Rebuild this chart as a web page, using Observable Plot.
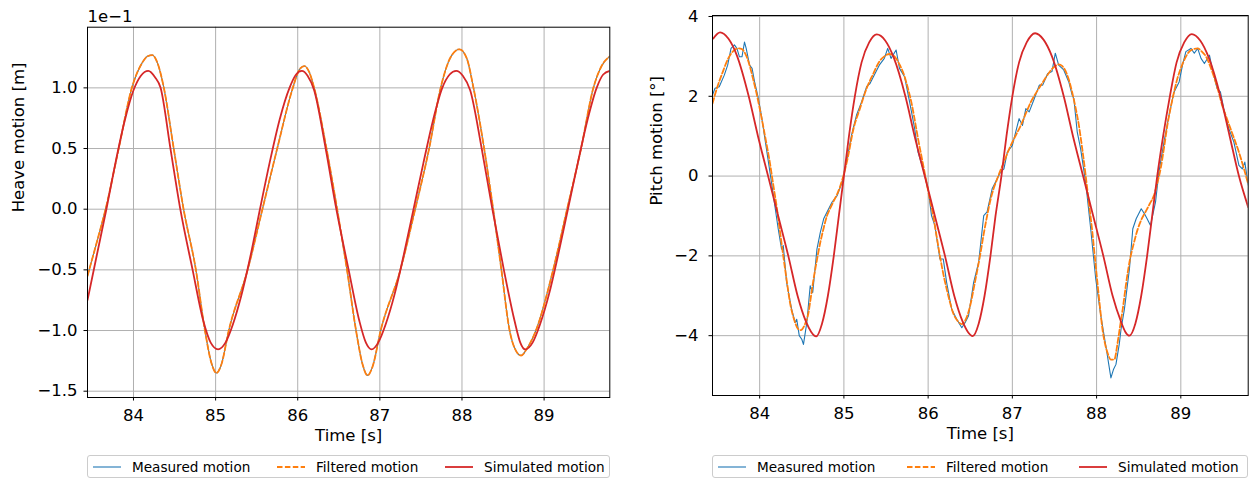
<!DOCTYPE html>
<html><head><meta charset="utf-8">
<script src="https://cdn.jsdelivr.net/npm/d3@7"></script>
<script src="https://cdn.jsdelivr.net/npm/@observablehq/plot@0.6"></script>
<style>
body{margin:0;background:#fff;font-family:"DejaVu Sans",sans-serif;}
#wrap{position:relative;width:1253px;height:484px;overflow:hidden;background:#fff;}
.panel{position:absolute;top:0;}
.legend{position:absolute;box-sizing:border-box;border:1px solid #cccccc;border-radius:3px;background:#fff;font-size:13.6px;color:#000;}
.item{position:absolute;top:0;height:100%;display:flex;align-items:center;white-space:nowrap;}
.item svg{margin-right:11px;display:block;}
</style></head><body>
<div id="wrap">
 <div id="left" class="panel" style="left:0"></div>
 <div id="right" class="panel" style="left:630px"></div>
 <div id="legL" class="legend" style="left:87px;top:455px;width:523px;height:23px"></div>
 <div id="legR" class="legend" style="left:712px;top:455px;width:536px;height:23px"></div>
</div>
<script>
// ---------- labels ----------
const seriesNames = ["Measured motion", "Filtered motion", "Simulated motion"];
const seriesColors = ["#1f77b4", "#ff7f0e", "#d62728"];
const timeTicks = [84, 85, 86, 87, 88, 89];
const heaveTicks = [-1.5, -1.0, -0.5, 0.0, 0.5, 1.0];   // in units of 1e-1 m
const pitchTicks = [-4, -2, 0, 2, 4];

// ---------- heave (units of 1e-1 m) ----------
const heaveMeasured = [[83.44,-0.55],[83.55,-0.28],[83.66,0.0],[83.82,0.5],[83.98,1.0],[84.10,1.20],[84.17,1.26],[84.23,1.27],[84.30,1.19],[84.37,1.0],[84.49,0.5],[84.61,0.0],[84.76,-0.5],[84.87,-1.0],[84.95,-1.27],[85.01,-1.35],[85.07,-1.28],[85.16,-1.0],[85.39,-0.5],[85.57,0.0],[85.75,0.5],[85.94,1.0],[86.02,1.15],[86.08,1.18],[86.14,1.13],[86.20,1.0],[86.35,0.5],[86.48,0.0],[86.60,-0.5],[86.71,-1.0],[86.79,-1.28],[86.85,-1.37],[86.91,-1.30],[87.01,-1.0],[87.25,-0.5],[87.43,0.0],[87.60,0.5],[87.74,1.0],[87.86,1.25],[87.97,1.318],[88.06,1.24],[88.14,1.0],[88.27,0.5],[88.38,0.0],[88.48,-0.5],[88.58,-1.0],[88.66,-1.17],[88.72,-1.206],[88.79,-1.15],[88.90,-1.0],[89.11,-0.5],[89.28,0.0],[89.45,0.5],[89.60,1.0],[89.70,1.18],[89.80,1.26]];
const heaveFiltered = [[83.44,-0.55],[83.55,-0.28],[83.66,0.0],[83.82,0.5],[83.98,1.0],[84.10,1.20],[84.17,1.26],[84.23,1.27],[84.30,1.19],[84.37,1.0],[84.49,0.5],[84.61,0.0],[84.76,-0.5],[84.87,-1.0],[84.95,-1.27],[85.01,-1.35],[85.07,-1.28],[85.16,-1.0],[85.39,-0.5],[85.57,0.0],[85.75,0.5],[85.94,1.0],[86.02,1.15],[86.08,1.18],[86.14,1.13],[86.20,1.0],[86.35,0.5],[86.48,0.0],[86.60,-0.5],[86.71,-1.0],[86.79,-1.28],[86.85,-1.37],[86.91,-1.30],[87.01,-1.0],[87.25,-0.5],[87.43,0.0],[87.60,0.5],[87.74,1.0],[87.86,1.25],[87.97,1.318],[88.06,1.24],[88.14,1.0],[88.27,0.5],[88.38,0.0],[88.48,-0.5],[88.58,-1.0],[88.66,-1.17],[88.72,-1.206],[88.79,-1.15],[88.90,-1.0],[89.11,-0.5],[89.28,0.0],[89.45,0.5],[89.60,1.0],[89.70,1.18],[89.80,1.26]];
const heaveSimulated = [[83.44,-0.75],[83.55,-0.39],[83.67,0.0],[83.78,0.38],[83.89,0.72],[84.00,0.98],[84.09,1.10],[84.18,1.14],[84.26,1.09],[84.33,1.0],[84.45,0.5],[84.57,0.0],[84.72,-0.5],[84.85,-0.92],[84.94,-1.10],[85.03,-1.155],[85.12,-1.10],[85.21,-0.95],[85.31,-0.72],[85.42,-0.40],[85.54,0.0],[85.66,0.39],[85.78,0.74],[85.90,1.0],[85.98,1.11],[86.05,1.14],[86.12,1.10],[86.20,0.98],[86.34,0.5],[86.47,0.0],[86.62,-0.5],[86.75,-0.92],[86.83,-1.10],[86.90,-1.156],[86.98,-1.10],[87.07,-0.95],[87.18,-0.70],[87.29,-0.38],[87.41,0.0],[87.53,0.38],[87.65,0.74],[87.76,1.0],[87.85,1.11],[87.93,1.14],[88.01,1.10],[88.10,0.98],[88.24,0.5],[88.37,0.0],[88.51,-0.5],[88.64,-0.92],[88.71,-1.10],[88.77,-1.156],[88.86,-1.10],[88.95,-0.95],[89.06,-0.70],[89.17,-0.38],[89.29,0.0],[89.41,0.38],[89.53,0.74],[89.64,1.0],[89.72,1.11],[89.80,1.14]];

// ---------- pitch (degrees) ----------
const pitchMeasured = [[83.44,2.03],[83.47,2.2],[83.52,2.24],[83.58,2.53],[83.62,2.78],[83.66,3.2],[83.70,3.29],[83.73,3.2],[83.76,2.99],[83.79,2.99],[83.82,3.36],[83.84,3.2],[83.88,2.78],[83.91,2.7],[83.94,2.36],[83.98,1.99],[84.02,1.53],[84.08,0.69],[84.14,-0.15],[84.18,-0.74],[84.22,-1.32],[84.26,-1.83],[84.28,-1.74],[84.32,-2.67],[84.38,-3.34],[84.42,-3.67],[84.44,-3.59],[84.47,-4.0],[84.50,-4.09],[84.52,-4.22],[84.56,-3.67],[84.60,-2.75],[84.63,-2.92],[84.68,-1.83],[84.72,-1.41],[84.76,-1.07],[84.80,-0.9],[84.86,-0.65],[84.92,-0.49],[84.98,-0.15],[85.03,0.35],[85.09,1.02],[85.15,1.53],[85.21,1.86],[85.27,2.24],[85.31,2.32],[85.37,2.57],[85.42,2.78],[85.48,2.95],[85.52,3.2],[85.56,2.95],[85.62,3.16],[85.66,2.7],[85.72,2.49],[85.78,1.86],[85.84,1.19],[85.88,0.6],[85.94,0.18],[86.00,-0.32],[86.04,-0.99],[86.08,-1.24],[86.14,-2.08],[86.18,-2.08],[86.22,-2.67],[86.28,-3.34],[86.34,-3.59],[86.40,-3.8],[86.44,-3.67],[86.48,-3.5],[86.54,-2.67],[86.60,-2.16],[86.66,-0.99],[86.70,-0.9],[86.76,-0.32],[86.82,-0.07],[86.86,0.1],[86.90,0.18],[86.94,0.6],[87.00,0.77],[87.04,1.11],[87.08,1.44],[87.12,1.27],[87.16,1.69],[87.20,1.61],[87.26,1.94],[87.32,2.28],[87.36,2.28],[87.42,2.57],[87.47,2.62],[87.51,3.08],[87.55,2.78],[87.61,2.66],[87.67,2.36],[87.71,2.03],[87.73,1.94],[87.77,1.11],[87.81,0.69],[87.87,-0.15],[87.93,-1.32],[87.99,-2.58],[88.05,-3.5],[88.11,-4.26],[88.17,-5.06],[88.20,-4.85],[88.23,-4.72],[88.27,-4.2],[88.29,-3.84],[88.33,-3.34],[88.39,-2.33],[88.43,-1.32],[88.47,-1.07],[88.53,-0.82],[88.57,-0.95],[88.60,-1.07],[88.64,-1.24],[88.70,-0.65],[88.74,0.1],[88.80,0.85],[88.86,1.53],[88.92,2.11],[88.98,2.36],[89.02,2.78],[89.06,3.12],[89.12,3.2],[89.16,3.08],[89.20,3.2],[89.24,2.95],[89.28,2.82],[89.34,3.03],[89.38,2.62],[89.43,2.2],[89.47,2.11],[89.51,1.69],[89.57,1.19],[89.63,0.85],[89.69,0.27],[89.73,0.18],[89.76,0.35],[89.80,-0.23]];
const pitchFiltered = [[83.44,1.82],[83.50,2.25],[83.56,2.6],[83.62,2.92],[83.68,3.12],[83.74,3.2],[83.79,3.18],[83.84,3.02],[83.88,2.78],[83.92,2.45],[83.96,2.1],[84.00,1.7],[84.04,1.27],[84.08,0.82],[84.12,0.35],[84.16,-0.2],[84.20,-0.74],[84.24,-1.37],[84.28,-2.0],[84.32,-2.6],[84.36,-3.17],[84.41,-3.6],[84.46,-3.84],[84.49,-3.86],[84.53,-3.75],[84.58,-3.42],[84.61,-3.0],[84.64,-2.58],[84.68,-2.1],[84.72,-1.66],[84.76,-1.3],[84.80,-0.99],[84.84,-0.8],[84.88,-0.62],[84.92,-0.45],[84.96,-0.23],[85.00,0.05],[85.05,0.5],[85.11,1.15],[85.19,1.69],[85.27,2.2],[85.35,2.57],[85.42,2.87],[85.48,3.0],[85.54,3.06],[85.60,3.0],[85.66,2.8],[85.72,2.5],[85.76,2.2],[85.80,1.86],[85.84,1.42],[85.88,0.94],[85.93,0.4],[85.98,-0.15],[86.02,-0.58],[86.06,-0.99],[86.10,-1.5],[86.14,-2.0],[86.18,-2.45],[86.22,-2.83],[86.26,-3.17],[86.30,-3.45],[86.35,-3.63],[86.40,-3.71],[86.44,-3.62],[86.48,-3.4],[86.51,-3.15],[86.54,-2.83],[86.58,-2.4],[86.62,-1.95],[86.66,-1.45],[86.70,-1.0],[86.74,-0.6],[86.78,-0.3],[86.82,-0.07],[86.86,0.15],[86.90,0.35],[86.95,0.62],[87.00,0.85],[87.05,1.06],[87.10,1.27],[87.16,1.57],[87.22,1.86],[87.28,2.08],[87.34,2.28],[87.40,2.48],[87.46,2.66],[87.51,2.76],[87.55,2.8],[87.59,2.76],[87.63,2.64],[87.67,2.42],[87.71,2.1],[87.75,1.72],[87.79,1.27],[87.83,0.68],[87.87,0.02],[87.91,-0.7],[87.95,-1.41],[87.98,-2.05],[88.01,-2.67],[88.04,-3.28],[88.07,-3.84],[88.10,-4.2],[88.13,-4.43],[88.17,-4.6],[88.21,-4.6],[88.25,-4.17],[88.28,-3.75],[88.31,-3.34],[88.35,-2.7],[88.39,-2.16],[88.44,-1.7],[88.49,-1.32],[88.53,-1.1],[88.58,-0.9],[88.63,-0.7],[88.68,-0.49],[88.72,-0.18],[88.76,0.18],[88.80,0.7],[88.84,1.27],[88.88,1.72],[88.92,2.11],[88.96,2.45],[89.00,2.7],[89.05,2.95],[89.10,3.12],[89.15,3.18],[89.20,3.2],[89.25,3.12],[89.30,2.99],[89.35,2.75],[89.40,2.45],[89.45,2.1],[89.49,1.78],[89.54,1.48],[89.59,1.19],[89.64,0.9],[89.69,0.6],[89.74,0.25],[89.80,-0.2]];
const pitchSimulated = [[83.45,3.45],[83.53,3.60],[83.63,3.44],[83.73,3.02],[83.87,2.0],[83.98,1.0],[84.10,0.0],[84.22,-1.0],[84.34,-2.0],[84.45,-3.0],[84.55,-3.65],[84.61,-3.9],[84.67,-4.02],[84.74,-3.7],[84.81,-3.0],[84.88,-2.0],[84.94,-1.0],[85.00,0.0],[85.06,1.0],[85.13,2.0],[85.21,2.85],[85.30,3.35],[85.39,3.55],[85.49,3.40],[85.59,2.98],[85.73,2.0],[85.84,1.0],[85.96,0.0],[86.08,-1.0],[86.20,-2.0],[86.31,-3.0],[86.41,-3.65],[86.47,-3.9],[86.53,-4.01],[86.60,-3.7],[86.67,-3.0],[86.74,-2.0],[86.80,-1.0],[86.87,0.0],[86.93,1.0],[87.00,2.0],[87.08,2.85],[87.17,3.35],[87.27,3.58],[87.37,3.42],[87.47,3.0],[87.61,2.0],[87.72,1.0],[87.84,0.0],[87.96,-1.0],[88.08,-2.0],[88.19,-3.0],[88.29,-3.65],[88.34,-3.9],[88.39,-4.0],[88.46,-3.7],[88.53,-3.0],[88.60,-2.0],[88.66,-1.0],[88.72,0.0],[88.79,1.0],[88.87,2.0],[88.95,2.85],[89.04,3.35],[89.13,3.56],[89.23,3.40],[89.33,2.98],[89.47,2.0],[89.58,1.0],[89.69,0.0],[89.80,-0.78]];

// ---------- drawing ----------
const lineStyles = [
  {stroke: seriesColors[0], strokeWidth: 1.1},
  {stroke: seriesColors[1], strokeWidth: 1.8, strokeDasharray: "5.5,2.4"},
  {stroke: seriesColors[2], strokeWidth: 1.8}
];

function panel(o) {
  const grid = {stroke: "#b0b0b0", strokeOpacity: 1, strokeWidth: 1};
  const marks = [
    Plot.gridX(timeTicks, grid),
    Plot.gridY(o.yTicks, grid),
  ];
  o.series.forEach((s, i) => {
    marks.push(Plot.line(s, {x: d => d[0], y: d => d[1], ...lineStyles[i], curve: o.curves[i], clip: true, strokeLinejoin: "round"}));
  });
  marks.push(
    Plot.frame({stroke: "black", strokeWidth: 1}),
    Plot.axisX(timeTicks, {tickSize: 3.5, tickPadding: 8, tickFormat: d => String(d), label: null}),
    Plot.axisY(o.yTicks, {tickSize: 3.5, tickPadding: o.yPad, tickFormat: o.yFmt, label: null}),
    Plot.text(["Time [s]"], {frameAnchor: "bottom", dy: 43, text: d => d}),
    Plot.text([o.yLabel], {frameAnchor: "left", rotate: -90, dx: o.yLabelDx, text: d => d})
  );
  if (o.offsetText) marks.push(Plot.text([o.offsetText], {frameAnchor: "top-left", textAnchor: "start", lineAnchor: "bottom", dy: -5, text: d => d}));
  return Plot.plot({
    width: o.width, height: 450,
    marginLeft: o.mL, marginRight: o.mR, marginTop: o.mT, marginBottom: o.mB,
    x: {domain: [83.44, 89.80]},
    y: {domain: o.yDomain},
    style: {fontFamily: "DejaVu Sans", fontSize: "16.5px", background: "white", color: "black", overflow: "visible"},
    marks
  });
}

document.getElementById("left").appendChild(panel({
  width: 625, mL: 87, mR: 15.7, mT: 26.7, mB: 53,
  yDomain: [-1.552, 1.5], yTicks: heaveTicks, yFmt: d3.format(".1f"), yPad: 6.5,
  yLabel: "Heave motion [m]", yLabelDx: -69, offsetText: "1e\u22121",
  series: [heaveMeasured, heaveFiltered, heaveSimulated],
  curves: ["monotone-x", "monotone-x", "monotone-x"]
}));
document.getElementById("right").appendChild(panel({
  width: 623, mL: 82, mR: 5.3, mT: 15, mB: 55,
  yDomain: [-5.50, 4.025], yTicks: pitchTicks, yFmt: d3.format("d"), yPad: 10.5,
  yLabel: "Pitch motion [°]", yLabelDx: -56,
  series: [pitchMeasured, pitchFiltered, pitchSimulated],
  curves: ["linear", "monotone-x", "monotone-x"]
}));

function legend(id, offsets) {
  const box = document.getElementById(id);
  seriesNames.forEach((name, i) => {
    const it = document.createElement("div");
    it.className = "item";
    it.style.left = offsets[i] + "px";
    const st = lineStyles[i];
    it.innerHTML = `<svg width="28" height="10"><line x1="0" x2="28" y1="5" y2="5" stroke="${st.stroke}" stroke-width="${st.strokeWidth}" ${st.strokeDasharray ? `stroke-dasharray="${st.strokeDasharray}"` : ""}/></svg><span>${name}</span>`;
    box.appendChild(it);
  });
}
legend("legL", [5, 189, 357]);
legend("legR", [5, 194, 366]);
</script>
</body></html>
